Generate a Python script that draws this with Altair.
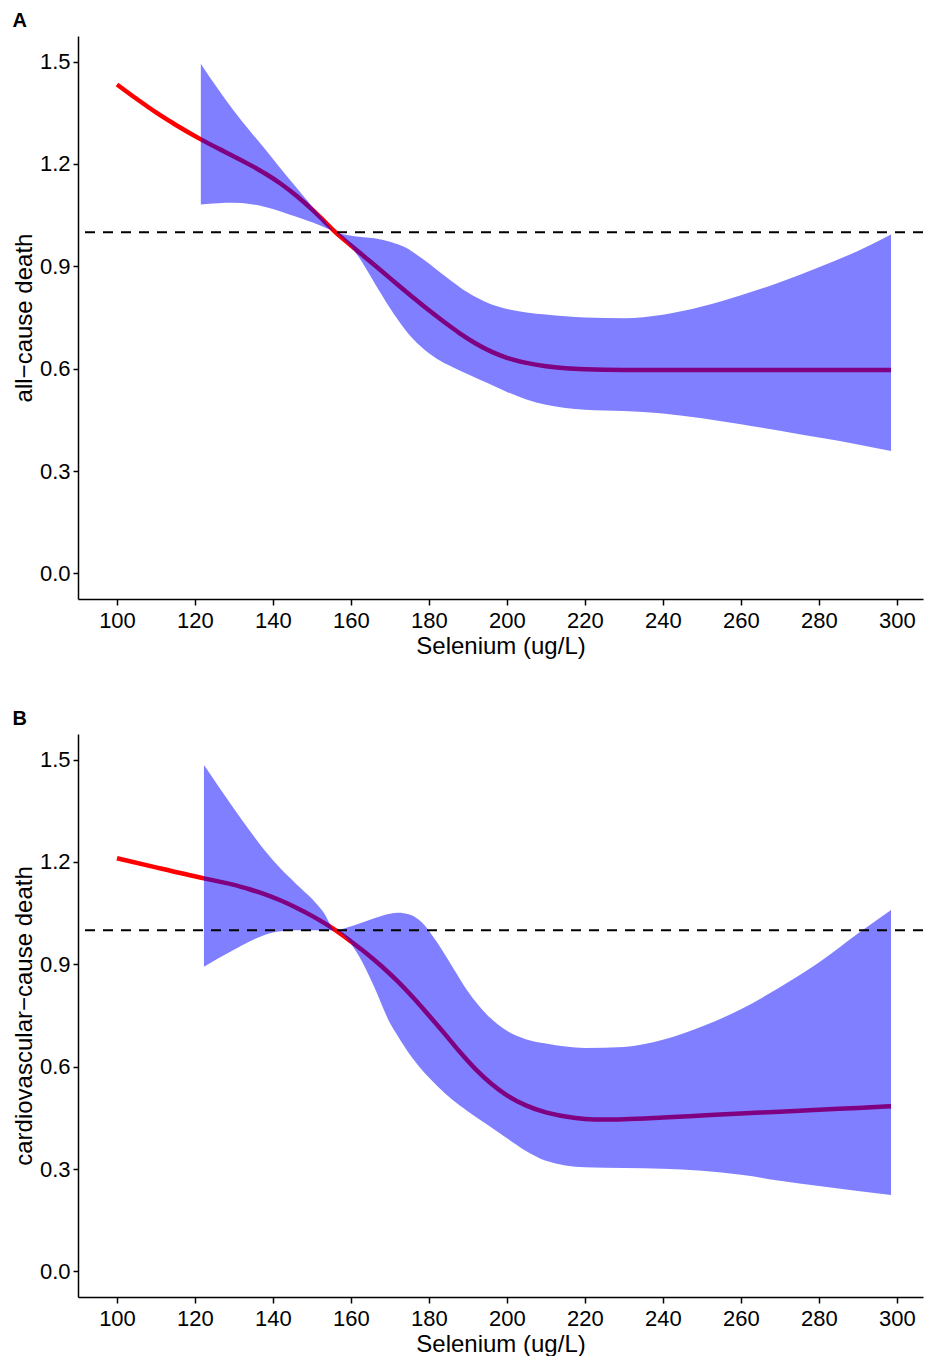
import altair as alt
import pandas as pd

# ---------------- Panel A: all-cause death ----------------
A_line_x = [100, 105, 110, 115, 121.5, 126, 130, 134, 138, 142, 146, 150, 153, 156,
            160, 164, 168, 172, 176, 180, 184, 188, 192, 196, 200, 205, 210, 215, 220,
            230, 250, 270, 298.5]
A_line_y = [1.433, 1.391, 1.351, 1.315, 1.272, 1.245, 1.222, 1.198, 1.172, 1.142, 1.107,
            1.067, 1.034, 1.0, 0.961, 0.923, 0.885, 0.846, 0.808, 0.771, 0.736, 0.703,
            0.674, 0.650, 0.632, 0.617, 0.607, 0.601, 0.598, 0.596, 0.596, 0.596, 0.596]

A_band_x = [121.5, 126, 130, 134, 138, 142, 146, 150, 153, 156, 159, 162, 166, 170, 174,
            178, 182, 186, 190, 195, 200, 205, 210, 215, 220, 230, 240, 250, 260, 270,
            280, 290, 298.5]
A_band_hi = [1.494, 1.418, 1.355, 1.298, 1.243, 1.186, 1.131, 1.076, 1.037, 1.0, 0.992,
             0.987, 0.982, 0.972, 0.955, 0.925, 0.890, 0.855, 0.823, 0.793, 0.775,
             0.765, 0.759, 0.754, 0.750, 0.748, 0.758, 0.782, 0.815, 0.853, 0.897,
             0.945, 0.993]
A_band_lo = [1.081, 1.085, 1.086, 1.083, 1.074, 1.061, 1.045, 1.029, 1.015, 1.0, 0.97,
             0.927, 0.852, 0.778, 0.713, 0.664, 0.629, 0.605, 0.584, 0.558, 0.532,
             0.510, 0.494, 0.485, 0.480, 0.476, 0.469, 0.455, 0.437, 0.418, 0.398,
             0.378, 0.359]

# ---------------- Panel B: cardiovascular-cause death ----------------
B_line_x = [100, 110, 122.3, 126, 130, 134, 138, 142, 146, 150, 153, 156, 160, 164, 168,
            172, 176, 180, 184, 188, 192, 196, 200, 205, 210, 215, 220, 225, 230, 240,
            250, 260, 270, 280, 290, 298.5]
B_line_y = [1.211, 1.184, 1.152, 1.143, 1.133, 1.120, 1.105, 1.087, 1.066, 1.042, 1.022,
            1.0, 0.967, 0.932, 0.893, 0.850, 0.802, 0.750, 0.697, 0.642, 0.592, 0.550,
            0.516, 0.486, 0.466, 0.454, 0.447, 0.445, 0.446, 0.451, 0.457, 0.463, 0.468,
            0.474, 0.479, 0.484]

B_band_x = [122.3, 126, 130, 134, 138, 142, 146, 150, 153, 156, 159, 162, 166, 170, 172,
            175, 178, 182, 186, 190, 195, 200, 205, 210, 220, 230, 240, 250, 260, 270,
            280, 290, 298.5]
B_band_hi = [1.484, 1.422, 1.356, 1.292, 1.232, 1.180, 1.135, 1.092, 1.052, 1.0, 1.008,
             1.019, 1.035, 1.048, 1.051, 1.046, 1.025, 0.966, 0.893, 0.820, 0.751, 0.705,
             0.680, 0.668, 0.655, 0.658, 0.679, 0.718, 0.768, 0.833, 0.905, 0.990, 1.059]
B_band_lo = [0.893, 0.918, 0.943, 0.967, 0.987, 0.997, 1.0, 1.0, 1.0, 1.0, 0.975, 0.925,
             0.833, 0.728, 0.690, 0.637, 0.593, 0.545, 0.503, 0.469, 0.430, 0.390,
             0.352, 0.324, 0.305, 0.303, 0.301, 0.295, 0.283, 0.266, 0.250, 0.236, 0.224]

x_ticks = [100, 120, 140, 160, 180, 200, 220, 240, 260, 280, 300]
y_ticks = [0.0, 0.3, 0.6, 0.9, 1.2, 1.5]
ref_value = [1.0]
x_title = "Selenium (ug/L)"
FONT = "Liberation Sans"


def panel(letter, ytitle, lx, ly, bx, blo, bhi):
    line_df = pd.DataFrame({"x": lx, "y": ly})
    band_df = pd.DataFrame({"x": bx, "lo": blo, "hi": bhi})
    ref_df = pd.DataFrame({"ref": ref_value})

    xs = alt.Scale(domain=[90, 306.7], nice=False, zero=False)
    ys = alt.Scale(domain=[-0.075, 1.575], nice=False, zero=False)
    xaxis = alt.Axis(values=x_ticks, title=x_title, labelFlush=False,
                     labelPadding=5, titlePadding=3)
    yaxis = alt.Axis(values=y_ticks, format=".1f", title=ytitle, labelFlush=False,
                     labelPadding=3, titlePadding=3, tickSize=5)

    line = alt.Chart(line_df).mark_line(
        color="#FF0000", strokeWidth=4.5, interpolate="monotone"
    ).encode(
        x=alt.X("x:Q", scale=xs, axis=xaxis),
        y=alt.Y("y:Q", scale=ys, axis=yaxis),
    )
    band = alt.Chart(band_df).mark_area(
        color="#0000FF", opacity=0.5, interpolate="monotone"
    ).encode(
        x=alt.X("x:Q", scale=xs, axis=xaxis),
        y=alt.Y("lo:Q", scale=ys, axis=yaxis),
        y2="hi:Q",
    )
    rule = alt.Chart(ref_df).mark_rule(
        color="black", strokeWidth=2, strokeDash=[10, 8]
    ).encode(
        y=alt.Y("ref:Q", scale=ys, axis=yaxis),
    )
    return alt.layer(line, band, rule).properties(
        width=845, height=563,
        title=alt.TitleParams(letter),
    )


pa = panel("A", "all\u2212cause death", A_line_x, A_line_y, A_band_x, A_band_lo, A_band_hi)
pb = panel("B", "cardiovascular\u2212cause death", B_line_x, B_line_y, B_band_x, B_band_lo, B_band_hi)

chart = alt.vconcat(pa, pb, spacing=51).properties(
    padding={"left": 4, "top": 3, "right": 0, "bottom": 0}
).configure_view(
    stroke=None
).configure_title(
    font=FONT, fontSize=20, fontWeight="bold", color="black",
    anchor="start", frame="bounds", offset=5,
).configure_axis(
    domainColor="black", domainWidth=1.5, tickColor="black", tickWidth=1.5, tickSize=6,
    labelColor="black", labelFont=FONT, labelFontSize=22,
    titleFont=FONT, titleFontSize=24, titleFontWeight="normal", titleColor="black",
    grid=False, labelOverlap=False,
)

chart.save("out.html", embed_options={"renderer": "svg", "actions": False})
